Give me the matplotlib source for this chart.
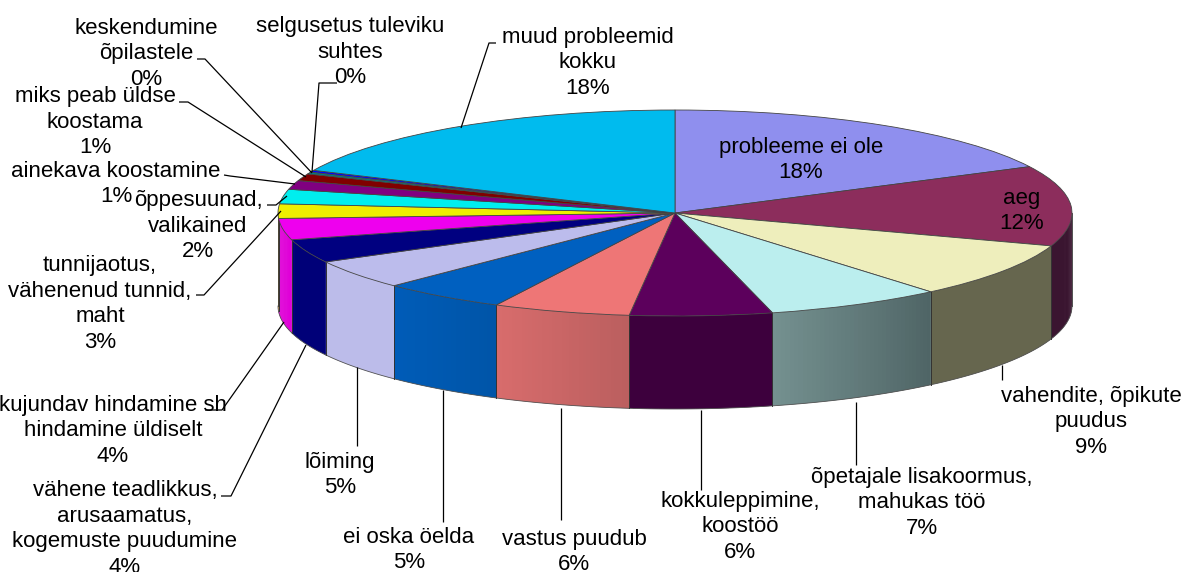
import numpy as np
import matplotlib
matplotlib.use('Agg')
import matplotlib.pyplot as plt
from matplotlib.colors import to_rgb

plt.rcParams['font.family'] = ['Liberation Sans', 'DejaVu Sans']

names = ['probleeme ei ole', 'aeg', 'vahendite, õpikute\npuudus',
         'õpetajale lisakoormus,\nmahukas töö', 'kokkuleppimine,\nkoostöö',
         'vastus puudub', 'ei oska öelda', 'lõiming',
         'vähene teadlikkus,\narusaamatus,\nkogemuste puudumine',
         'kujundav hindamine sh\nhindamine üldiselt',
         'tunnijaotus,\nvähenenud tunnid,\nmaht', 'õppesuunad,\nvalikained',
         'ainekava koostamine', 'miks peab üldse\nkoostama',
         'keskendumine\nõpilastele', 'selgusetus tuleviku\nsuhtes',
         'muud probleemid\nkokku']
values = [17.6, 12.62, 8.7, 7.2, 5.8, 5.6, 5.1, 4.6, 3.7, 3.35, 2.27, 2.28, 1.4, 1.1, 0.3, 0.3, 18.23]
percents = [18, 12, 9, 7, 6, 6, 5, 5, 4, 4, 3, 2, 1, 1, 0, 0, 18]

top_colors = ['#8f8fee', '#8c2d5c', '#eeeebc', '#bbeeee', '#5c005c', '#ee7676',
              '#0060c0', '#bcbcec', '#000080', '#ee00ee', '#eeee00', '#00eeee',
              '#800080', '#800000', '#008080', '#0000ff', '#00bbee']
# wall colours, left and right end of each slice's gradient
wall_left = ['#5a5a96', '#3a1530', '#66664e', '#74908f', '#3d003d', '#d86c6c',
             '#005cb8', '#bcbcea', '#000078', '#e000d8', '#d0d000', '#00d0d0',
             '#600060', '#600000', '#006060', '#0000c0', '#0090c0']
wall_right = ['#5a5a96', '#3a1530', '#66664e', '#4f6566', '#3d003d', '#bb5f5f',
              '#0055a8', '#bcbcea', '#000078', '#e000d8', '#d0d000', '#00d0d0',
              '#600060', '#600000', '#006060', '#0000c0', '#0090c0']

# label centres in image pixels
label_x = [801, 1022, 1091, 922, 740, 574, 409, 340, 125, 113, 100, 198, 116, 95, 146, 350, 588]
label_y = [160, 211, 422, 503, 527, 552, 550, 475, 529, 431, 304, 226, 184, 122, 54, 52, 63]

leaders = [
    ([197, 205, 312], [59, 59, 173]),
    ([179, 188, 306], [102, 102, 177]),
    ([224, 230, 295], [175, 176, 184]),
    ([267, 276, 287], [205, 205, 196]),
    ([196, 204, 281], [295, 295, 211]),
    ([205, 222, 284], [410, 410, 322]),
    ([221, 231, 306], [496, 496, 345]),
    ([357, 357], [367, 446]),
    ([443, 443], [390, 522]),
    ([561, 561], [408, 520]),
    ([701, 701], [410, 490]),
    ([856, 856], [402, 465]),
    ([1002, 1002], [365, 380]),
    ([337, 319, 312], [83, 83, 172]),
    ([496, 489, 461], [43, 43, 128]),
]

W, H = 1190, 572
cx, cy, rx, ry = 675, 213, 397, 103
depth = 93 / ry

def px(x):
    return (np.asarray(x, float) - cx) / rx

def py(y):
    return (cy - np.asarray(y, float)) / ry

fig = plt.figure(figsize=(W / 100, H / 100), dpi=100)
ax = fig.add_axes([0, 0, 1, 1])

# top face: a normal pie, squashed by turning the equal aspect off
ax.pie(values, colors=top_colors, startangle=90, counterclock=False, radius=1,
       wedgeprops=dict(edgecolor='#444444', linewidth=0.6, zorder=3))
ax.set_aspect('auto')
ax.set_xlim(px(0), px(W))
ax.set_ylim(py(H), py(0))

# walls, front half only
fracs = np.array(values) / sum(values)
ends = 90 - 360 * np.cumsum(fracs)
starts = np.r_[90, ends[:-1]]
for a0, a1, c0, c1 in zip(starts, ends, wall_left, wall_right):
    lo, hi = max(a1, -180), min(a0, 0)
    if hi <= lo:
        continue
    # lo is the left end on screen, hi the right end
    th = np.radians(np.linspace(lo, hi, 40))
    c0, c1 = np.array(to_rgb(c0)), np.array(to_rgb(c1))
    for i in range(len(th) - 1):
        t = i / (len(th) - 2)
        col = c0 + (c1 - c0) * t
        # each strip runs on under the next one so no seams show
        xs = np.cos(th[i:i + 3])
        ys = np.sin(th[i:i + 3])
        ax.fill(np.r_[xs, xs[::-1]], np.r_[ys, ys[::-1] - depth], color=col, lw=0, zorder=1)
    ax.plot(np.cos(th), np.sin(th) - depth, color='#555555', lw=0.6, zorder=2)
    for a in (th[0], th[-1]):
        ax.plot([np.cos(a)] * 2, [np.sin(a), np.sin(a) - depth], color='#333333', lw=0.6, zorder=2)

for xs, ys in leaders:
    ax.plot(px(xs), py(ys), color='black', lw=0.9, zorder=4, solid_capstyle='butt')

for name, p, x, y in zip(names, percents, label_x, label_y):
    ax.text(px(x), py(y), f'{name}\n{p}%', ha='center', va='center', fontsize=16,
            linespacing=1.3, color='black', zorder=5)

fig.savefig('out.png', dpi=100)
